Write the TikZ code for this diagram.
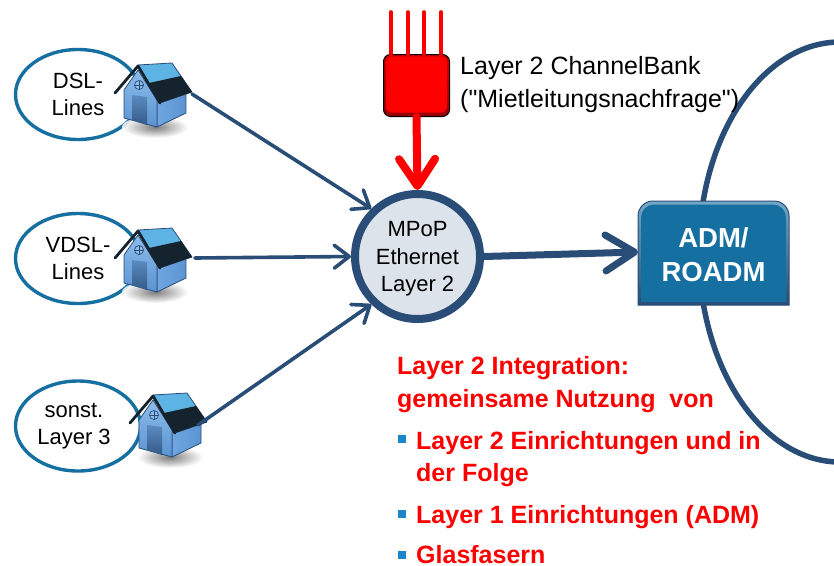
\documentclass[tikz,border=0pt]{standalone}
\usepackage{fontspec}
\setmainfont{Liberation Sans}
\newfontfamily\plainquote{Liberation Sans}
\usetikzlibrary{arrows.meta,shadings,fadings,shapes.geometric}
\definecolor{navy}{HTML}{2A4D78}
\definecolor{teal2}{HTML}{156FA0}
\definecolor{disc}{HTML}{DDE3EA}
\definecolor{roofdark}{HTML}{15232F}
\definecolor{hwall}{HTML}{6FA6E0}
\definecolor{hwalldark}{HTML}{5A94D2}
\definecolor{hwalllight}{HTML}{8DBCEA}
\definecolor{bulletblue}{HTML}{1A86C8}
\tikzset{
  x=1pt,y=-1pt,
  txt/.style={font=\fontsize{22}{27}\selectfont,align=center,text=black,inner sep=0pt},
  lbl/.style={font=\fontsize{25}{33}\selectfont,align=left,anchor=base west,text=black,inner sep=0pt},
  redtxt/.style={font=\bfseries\fontsize{25}{28}\selectfont,anchor=base west,text=red,inner sep=0pt},
  bubble/.style={draw=teal2,line width=3.4pt,fill=white,ellipse,inner sep=0pt,minimum width=125pt,minimum height=90pt},
  feed/.style={draw=navy,line width=3.6pt,line cap=round,-{Straight Barb[length=15pt,width=23pt,round]}},
  redline/.style={draw=red,line width=3.6pt,line cap=round},
  bullet/.style={fill=bulletblue,minimum size=7.5pt,inner sep=0pt},
  pics/house/.style={code={
    \shade[inner color=black!60,outer color=white,opacity=.85] (155,127) ellipse [x radius=33,y radius=11];
    % side wall
    \shade[left color=hwall,right color=hwalldark,draw=navy,line width=.8pt,line join=round] (157,100) -- (186,90) -- (186,113) -- (157,127) -- cycle;
    % front wall
    \shade[top color=hwalllight,bottom color=hwalldark,draw=navy,line width=.8pt,line join=round] (124,90) -- (138,70) -- (157,100) -- (157,127) -- (124,118) -- cycle;
    % door
    \shade[top color=hwall!70!navy,bottom color=navy!85!hwall,line join=round] (132,95) -- (147,97) -- (147,125) -- (132,120) -- cycle;
    % window
    \draw[navy,line width=.7pt,fill=hwalllight] (139,85) circle (4.5);
    \draw[navy,line width=.6pt] (134.5,85) -- (143.5,85) (139,80.5) -- (139,89.5);
    % roof light part
    \fill[fill=hwall!85!cyan,draw=navy,line width=.8pt,line join=round] (138,65) -- (172,63) -- (192,92) -- (160,103) -- cycle;
    % dark solar panel on roof
    \fill[roofdark] (149,83) -- (181,76) -- (192,92) -- (160,103) -- cycle;
    % front gable edge
    \draw[roofdark,line width=2.8pt,line join=round,line cap=round] (115,93) -- (138,66) -- (160,103);
  }}
}
\begin{document}
\begin{tikzpicture}
\useasboundingbox (0,0) rectangle (834,565);
\begin{scope}
\clip (0,0) rectangle (834,565);
\draw[navy,line width=5.5pt] (840,252) ellipse [x radius=141,y radius=210];
\end{scope}

% left bubbles
\node[bubble,txt] (dsl) at (78,94.5) {DSL-\\Lines};
\node[bubble,txt] (vdsl) at (78,258.5) {VDSL-\\Lines};
\node[bubble] (sonst) at (78,426) {};
\node[txt] (sonsttxt) at (74,426.5) {sonst.\\Layer 3};
\pic at (0,0) {house};
\pic at (0,165) {house};
\pic at (15,330) {house};

% central node
\node[circle,draw=navy,line width=8pt,fill=disc,minimum size=125pt,inner sep=0pt] (mpop) at (417.5,256.5) {};
\node[txt,font=\fontsize{22}{27.5}\selectfont] (mpoptxt) at (417.5,259) {MPoP\\Ethernet\\Layer 2};

% red box
\node[rectangle,rounded corners=7pt,draw=black,line width=1pt,top color=red!80!black,bottom color=red!60!black,minimum width=66pt,minimum height=62pt,inner sep=0pt] (bank) at (416.5,85.5) {};
\node[rectangle,rounded corners=6pt,fill=red,minimum width=61pt,minimum height=56pt,inner sep=0pt] (bankface) at (416.5,84.5) {};
\coordinate (f1) at (391,12);
\coordinate (f2) at (408,12);
\coordinate (f3) at (424,12);
\coordinate (f4) at (441,12);
\draw[redline] (f1) -- (f1 |- bank.north);
\draw[redline] (f2) -- (f2 |- bank.north);
\draw[redline] (f3) -- (f3 |- bank.north);
\draw[redline] (f4) -- (f4 |- bank.north);
\draw[draw=red,line width=8pt,line cap=round,-{Straight Barb[length=27pt,width=36pt,round]}] (bank.south) -- (mpop.north);

\node[lbl] (banktxt) at (460,74) {Layer 2 ChannelBank};
\node[lbl] (banktxtb) at (460,107) {\plainquote ("Mietleitungsnachfrage")};

% ADM
\shade[top color=teal2!60!white,bottom color=navy,draw=navy,line width=1pt] (638,305) -- (638,280) [rounded corners=15pt] -- (638,201) -- (789,201) -- (789,280) [sharp corners] -- (789,305) -- cycle;
\fill[teal2] (641,302) -- (641,280) [rounded corners=13pt] -- (641,204.5) -- (786,204.5) -- (786,280) [sharp corners] -- (786,302) -- cycle;
\node[font=\bfseries\fontsize{27.5}{34.5}\selectfont,text=white,align=center,inner sep=0pt,minimum width=151pt,minimum height=104pt] (adm) at (713.5,254.5) {ADM/\\ROADM};

% connectors
\coordinate (dslout) at (192,94);
\coordinate (vdslout) at (195,258);
\coordinate (sonstout) at (198,425);
\draw[feed] (dslout) -- (mpop.134);
\draw[feed] (vdslout) -- (mpop.west);
\draw[feed] (sonstout) -- (mpop.226);
\coordinate (admin) at (638,252);
\draw[draw=navy,line width=7pt,line cap=round,-{Straight Barb[length=29pt,width=36pt,round]}] (mpop.east) -- (admin);

% red text
\node[redtxt] (t1) at (397,374) {Layer 2 Integration:};
\node[redtxt] (t2) at (397,407) {gemeinsame Nutzung\ \ von};
\node[bullet] (b1) at (402,439) {};
\node[redtxt] (t3) at (416,449) {Layer 2 Einrichtungen und in};
\node[redtxt] (t4) at (416,481) {der Folge};
\node[bullet] (b2) at (402,514) {};
\node[redtxt] (t5) at (416,523) {Layer 1 Einrichtungen (ADM)};
\node[bullet] (b3) at (402,555) {};
\node[redtxt,text depth=0pt] (t6) at (416,563) {Glasfasern};
\end{tikzpicture}
\end{document}
